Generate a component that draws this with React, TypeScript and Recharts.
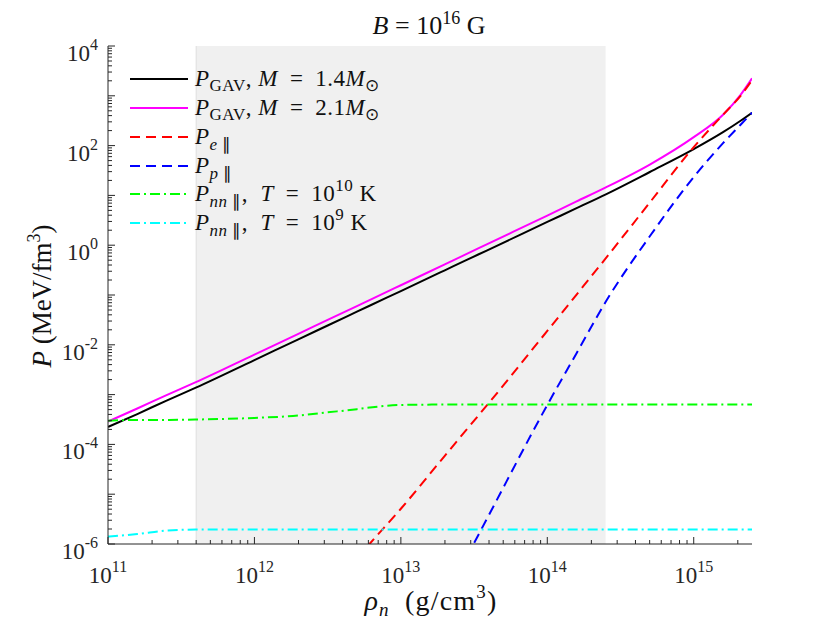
import React from 'react';
import { ComposedChart, Line, XAxis, YAxis, ReferenceArea, ReferenceLine } from 'recharts';

// density grid (g/cm^3)
const RHO = [1e11, 1.585e11, 2.512e11, 3.981e11, 1e12, 1.995e12, 3.162e12, 5.012e12, 6.11e12, 1e13, 1.995e13, 2.818e13, 3.89e13, 1e14, 1.585e14, 2.512e14, 5.012e14, 1e15, 1.585e15, 2.089e15, 2.5e15];
// pressures (MeV/fm^3)
const GAV14 = [2.24e-4, 4.07e-4, 7.6e-4, 1.38e-3, 4.94e-3, 1.29e-2, 2.44e-2, 4.62e-2, 6.08e-2, 0.12, 0.313, 0.506, 0.79, 2.93, 5.54, 10.5, 29.5, 85, 186, 316, 457];
const GAV21 = [2.88e-4, 5.25e-4, 9.8e-4, 1.78e-3, 6.37e-3, 1.66e-2, 3.16e-2, 6.0e-2, 7.9e-2, 0.157, 0.412, 0.667, 1.05, 3.94, 7.57, 14.5, 41.7, 148, 417, 1047, 2240];
const PE = [null, null, null, null, null, null, null, 5.1e-7, 1e-6, 5.1e-6, 5.9e-5, 2.0e-4, 6.2e-4, 1.9e-2, 0.102, 0.55, 7.2, 93, 417, 1000, 2040];
const PP = [null, null, null, null, null, null, null, null, null, null, null, 5.5e-7, 3.3e-6, 6.2e-4, 6.8e-3, 7.4e-2, 1.51, 23.4, 112, 263, 457];
const PNN10 = [3.0e-4, 3.1e-4, 3.1e-4, 3.16e-4, 3.4e-4, 3.8e-4, 4.4e-4, 5.1e-4, 5.5e-4, 6.2e-4, 6.3e-4, 6.3e-4, 6.3e-4, 6.3e-4, 6.3e-4, 6.3e-4, 6.3e-4, 6.3e-4, 6.3e-4, 6.3e-4, 6.3e-4];
const PNN9 = [1.41e-6, 1.58e-6, 1.86e-6, 1.95e-6, 1.95e-6, 1.95e-6, 1.95e-6, 1.95e-6, 1.95e-6, 1.95e-6, 1.95e-6, 1.95e-6, 1.95e-6, 1.95e-6, 1.95e-6, 1.95e-6, 1.95e-6, 1.95e-6, 1.95e-6, 1.95e-6, 1.95e-6];

const X_DECADES = [11, 12, 13, 14, 15];
const Y_DECADES = [-6, -5, -4, -3, -2, -1, 0, 1, 2, 3, 4];
const Y_LABELED = [-6, -4, -2, 0, 2, 4];
const SHADE = [4e11, 2.5e14];
const X_DOMAIN = [1e11, 2.5e15];
const Y_DOMAIN = [1e-6, 1e4];

const MANT = [1, 2, 3, 4, 5, 6, 7, 8, 9];
const xTicks = X_DECADES.flatMap((d) => MANT.map((m) => m * Math.pow(10, d))).filter((v) => v <= X_DOMAIN[1] * 1.0001);
const yTicks = Y_DECADES.flatMap((d) => MANT.map((m) => m * Math.pow(10, d))).filter((v) => v <= Y_DOMAIN[1] * 1.0001);

const data = RHO.map((r, i) => ({ rho: r, g14: GAV14[i], g21: GAV21[i], pe: PE[i], pp: PP[i], n10: PNN10[i], n9: PNN9[i] }));

const FONT = '"Liberation Serif", "Times New Roman", serif';
const AX = '#262626';
const TXT = '#111111';
const decOf = (v: number) => Math.log10(v);
const isMajor = (v: number) => Math.abs(decOf(v) - Math.round(decOf(v))) < 1e-6;

const BottomTick = (p: any) => {
  const v = p.payload.value;
  const maj = isMajor(v);
  const e = Math.round(decOf(v));
  return (
    <g>
      <line x1={p.x} x2={p.x} y1={p.y} y2={p.y - (maj ? 7 : 4)} stroke={AX} strokeWidth={1} />
      {maj && (
        <text x={p.x} y={p.y + 39} textAnchor="middle" fontFamily={FONT} fontSize={23} fill={AX}>
          <tspan>10</tspan>
          <tspan dy={-11} fontSize={16}>{e}</tspan>
        </text>
      )}
    </g>
  );
};
const TopTick = (p: any) => {
  const v = p.payload.value;
  const maj = isMajor(v);
  return <line x1={p.x} x2={p.x} y1={p.y} y2={p.y + (maj ? 7 : 4)} stroke={AX} strokeWidth={1} />;
};
const LeftTick = (p: any) => {
  const v = p.payload.value;
  const maj = isMajor(v);
  const e = Math.round(decOf(v));
  const lab = maj && Y_LABELED.includes(e);
  return (
    <g>
      <line x1={p.x} x2={p.x + (maj ? 7 : 4)} y1={p.y} y2={p.y} stroke={AX} strokeWidth={1} />
      {lab && (
        <text x={p.x - 10} y={p.y + 15} textAnchor="end" fontFamily={FONT} fontSize={23} fill={AX}>
          <tspan>10</tspan>
          <tspan dy={-11} fontSize={16}>{e}</tspan>
        </text>
      )}
    </g>
  );
};
const RightTick = (p: any) => {
  const v = p.payload.value;
  const maj = isMajor(v);
  return <line x1={p.x} x2={p.x - (maj ? 7 : 4)} y1={p.y} y2={p.y} stroke={AX} strokeWidth={1} />;
};

const LEGEND = [
  { color: '#000000', dash: undefined, kind: 'gav', m: '1.4' },
  { color: '#ff00ff', dash: undefined, kind: 'gav', m: '2.1' },
  { color: '#ff0000', dash: '10 6', kind: 'par', s: 'e' },
  { color: '#0000ff', dash: '10 6', kind: 'par', s: 'p' },
  { color: '#00ff00', dash: '10 4 2 4', kind: 'nn', t: '10' },
  { color: '#00ffff', dash: '10 4 2 4', kind: 'nn', t: '9' },
];

const SP = '\u2005';
const SPW = '\u2002';
const LegendText = ({ item, x, y }: any) => {
  const fs = 23;
  const sfs = 17;
  const ls = 0.5;
  if (item.kind === 'gav') {
    return (
      <text x={x} y={y} fontFamily={FONT} fontSize={fs} fill={TXT} letterSpacing={ls}>
        <tspan fontStyle="italic">P</tspan>
        <tspan dy={5} fontSize={sfs}>GAV</tspan>
        <tspan dy={-5}>,{SP}</tspan>
        <tspan fontStyle="italic">M</tspan>
        <tspan>{SPW}={SPW}{item.m}</tspan>
        <tspan fontStyle="italic">M</tspan>
        <tspan dy={5} fontSize={sfs}>⊙</tspan>
      </text>
    );
  }
  if (item.kind === 'par') {
    return (
      <text x={x} y={y} fontFamily={FONT} fontSize={fs} fill={TXT} letterSpacing={ls}>
        <tspan fontStyle="italic">P</tspan>
        <tspan dy={6} fontSize={sfs} fontStyle="italic">{item.s}</tspan>
        <tspan fontSize={sfs}> ∥</tspan>
      </text>
    );
  }
  return (
    <text x={x} y={y} fontFamily={FONT} fontSize={fs} fill={TXT} letterSpacing={ls}>
      <tspan fontStyle="italic">P</tspan>
      <tspan dy={6} fontSize={sfs} fontStyle="italic">nn</tspan>
      <tspan fontSize={sfs}> ∥</tspan>
      <tspan dy={-6}>,{SP}{SP}</tspan>
      <tspan fontStyle="italic">T</tspan>
      <tspan>{SPW}={SPW}10</tspan>
      <tspan dy={-10} fontSize={sfs}>{item.t}</tspan>
      <tspan dy={10}>{SP}K</tspan>
    </text>
  );
};

export default function App() {
  const W = 814;
  const H = 615;
  const rowY = [71, 100, 129, 158, 186, 215];
  return (
    <div style={{ position: 'relative', width: W, height: H }}>
      <ComposedChart width={W} height={H} data={data} margin={{ top: 38, right: 70, bottom: 39, left: 40 }}>
        <XAxis
          dataKey="rho"
          type="number"
          scale="log"
          domain={X_DOMAIN}
          allowDataOverflow
          ticks={xTicks}
          interval={0}
          tickSize={0}
          tickMargin={0}
          tickLine={false}
          height={40}
          axisLine={{ stroke: AX, strokeWidth: 1 }}
          tick={BottomTick}
        />
        <XAxis
          xAxisId="top"
          orientation="top"
          dataKey="rho"
          type="number"
          scale="log"
          domain={X_DOMAIN}
          allowDataOverflow
          ticks={xTicks}
          interval={0}
          tickSize={0}
          tickMargin={0}
          tickLine={false}
          height={0}
          axisLine={{ stroke: AX, strokeWidth: 1 }}
          tick={TopTick}
        />
        <YAxis
          type="number"
          scale="log"
          domain={Y_DOMAIN}
          allowDataOverflow
          ticks={yTicks}
          interval={0}
          tickSize={0}
          tickMargin={0}
          tickLine={false}
          width={60}
          axisLine={{ stroke: AX, strokeWidth: 1 }}
          tick={LeftTick}
        />
        <YAxis
          yAxisId="right"
          orientation="right"
          type="number"
          scale="log"
          domain={Y_DOMAIN}
          allowDataOverflow
          ticks={yTicks}
          interval={0}
          tickSize={0}
          tickMargin={0}
          tickLine={false}
          width={0}
          axisLine={{ stroke: AX, strokeWidth: 1 }}
          tick={RightTick}
        />
        <ReferenceArea x1={SHADE[0]} x2={SHADE[1]} y1={Y_DOMAIN[0]} y2={Y_DOMAIN[1]} fill="#f0f0f0" fillOpacity={1} stroke="none" ifOverflow="hidden" />
        <ReferenceLine x={SHADE[0]} stroke="#dedede" strokeWidth={1} />
        <Line dataKey="g14" stroke="#000000" strokeWidth={2} dot={false} type="monotone" isAnimationActive={false} />
        <Line dataKey="g21" stroke="#ff00ff" strokeWidth={2} dot={false} type="monotone" isAnimationActive={false} />
        <Line dataKey="pe" stroke="#ff0000" strokeWidth={2} strokeDasharray="10 6" dot={false} type="monotone" isAnimationActive={false} />
        <Line dataKey="pp" stroke="#0000ff" strokeWidth={2} strokeDasharray="10 6" dot={false} type="monotone" isAnimationActive={false} />
        <Line dataKey="n10" stroke="#00ff00" strokeWidth={2} strokeDasharray="10 4 2 4" dot={false} type="monotone" isAnimationActive={false} />
        <Line dataKey="n9" stroke="#00ffff" strokeWidth={2} strokeDasharray="10 4 2 4" dot={false} type="monotone" isAnimationActive={false} />
      </ComposedChart>
      <svg width={W} height={H} style={{ position: 'absolute', left: 0, top: 0, pointerEvents: 'none' }}>
        <text x={421} y={26} textAnchor="middle" fontFamily={FONT} fontSize={26} fill={TXT}>
          <tspan fontStyle="italic">B</tspan>
          <tspan>{SP}={SP}10</tspan>
          <tspan dy={-10} fontSize={18}>16</tspan>
          <tspan dy={10}> G</tspan>
        </text>
        <text x={423} y={602} textAnchor="middle" fontFamily={FONT} fontSize={28} fill={TXT} letterSpacing={1.2}>
          <tspan fontStyle="italic">ρ</tspan>
          <tspan dy={6} fontSize={19} fontStyle="italic">n</tspan>
          <tspan dy={-6}>{SPW}(g/cm</tspan>
          <tspan dy={-12} fontSize={19}>3</tspan>
          <tspan dy={12}>)</tspan>
        </text>
        <text x={0} y={0} transform="translate(43,288) rotate(-90)" textAnchor="middle" fontFamily={FONT} fontSize={27} fill={TXT}>
          <tspan fontStyle="italic">P</tspan>
          <tspan>{SP}(MeV/fm</tspan>
          <tspan dy={-11} fontSize={18}>3</tspan>
          <tspan dy={11}>)</tspan>
        </text>
        {LEGEND.map((it, i) => (
          <g key={i}>
            <line x1={122} x2={180} y1={rowY[i]} y2={rowY[i]} stroke={it.color} strokeWidth={2} strokeDasharray={it.dash} />
            <LegendText item={it} x={187} y={rowY[i] + 7} />
          </g>
        ))}
      </svg>
    </div>
  );
}
